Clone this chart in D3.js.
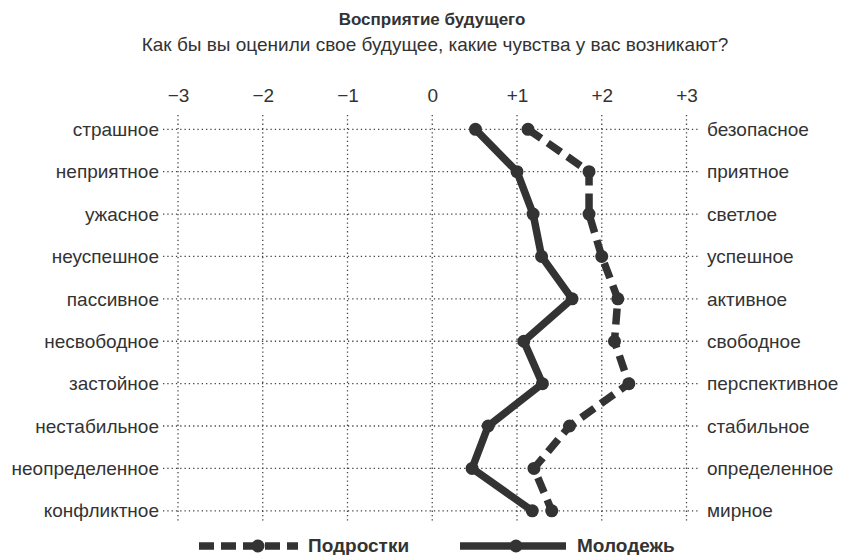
<!DOCTYPE html>
<html><head><meta charset="utf-8">
<script src="https://cdn.jsdelivr.net/npm/d3@7"></script>
<style>
body{margin:0;background:#fff;}
text{font-family:"Liberation Sans",Arial,sans-serif;fill:#333;}
</style></head>
<body>
<svg id="c" width="843" height="555"></svg>
<script>
const leftLabels = ["страшное","неприятное","ужасное","неуспешное","пассивное","несвободное","застойное","нестабильное","неопределенное","конфликтное"];
const rightLabels = ["безопасное","приятное","светлое","успешное","активное","свободное","перспективное","стабильное","определенное","мирное"];
const teens = [1.13,1.85,1.85,2.00,2.19,2.15,2.32,1.62,1.20,1.41];
const youth = [0.51,1.00,1.19,1.29,1.65,1.08,1.30,0.66,0.47,1.18];
const tickValues = [-3,-2,-1,0,1,2,3];
const tickLabels = ["−3","−2","−1","0","+1","+2","+3"];
const seriesNames = ["Подростки","Молодежь"];

const svg = d3.select("#c");
const col = "#333";
const x = d3.scaleLinear().domain([-3,3]).range([178,686.5]);
const y = d3.scalePoint().domain(leftLabels).range([129.3,510.8]);

svg.append("text").attr("x",432).attr("y",25).attr("text-anchor","middle")
  .style("font-size","17px").style("font-weight","bold").text("Восприятие будущего");
svg.append("text").attr("x",435).attr("y",51).attr("text-anchor","middle")
  .style("font-size","19px").text("Как бы вы оценили свое будущее, какие чувства у вас возникают?");

// top axis
const ax = svg.append("g").attr("transform","translate(0,102)")
  .call(d3.axisTop(x).tickValues(tickValues).tickSize(0).tickPadding(0)
    .tickFormat((d,i)=>tickLabels[i]));
ax.select(".domain").remove();
ax.selectAll("text").style("font-size","19px").attr("fill",col)
  .style("font-family","'Liberation Sans',Arial,sans-serif");

// grid
svg.append("g").selectAll("line").data(tickValues).join("line")
  .attr("x1",d=>x(d)).attr("x2",d=>x(d)).attr("y1",115).attr("y2",523)
  .attr("stroke","#444").attr("stroke-width",1.3).attr("stroke-dasharray","1.3,3");
svg.append("g").selectAll("line").data(leftLabels).join("line")
  .attr("x1",163).attr("x2",698).attr("y1",d=>y(d)).attr("y2",d=>y(d))
  .attr("stroke","#444").attr("stroke-width",1.3).attr("stroke-dasharray","1.3,3");

// labels
svg.append("g").selectAll("text").data(leftLabels).join("text")
  .attr("x",159).attr("y",d=>y(d)).attr("dy","0.35em").attr("text-anchor","end")
  .style("font-size","19px").text(d=>d);
svg.append("g").selectAll("text").data(rightLabels).join("text")
  .attr("x",707).attr("y",(d,i)=>y(leftLabels[i])).attr("dy","0.35em")
  .style("font-size","19px").text(d=>d);

function drawSeries(vals, dash){
  const pts = vals.map((v,i)=>[x(v), y(leftLabels[i])]);
  svg.append("path").attr("d", d3.line()(pts)).attr("fill","none")
    .attr("stroke",col).attr("stroke-width",7.5)
    .attr("stroke-dasharray", dash ? "16,8" : null);
  svg.append("g").selectAll("circle").data(pts).join("circle")
    .attr("cx",d=>d[0]).attr("cy",d=>d[1]).attr("r",6.5).attr("fill",col);
}
drawSeries(teens,true);
drawSeries(youth,false);

// legend
const lg = svg.append("g");
const ly = 546;
lg.append("line").attr("x1",199).attr("x2",298).attr("y1",ly).attr("y2",ly)
  .attr("stroke",col).attr("stroke-width",7.5).attr("stroke-dasharray","15,7");
lg.append("circle").attr("cx",258).attr("cy",ly).attr("r",6.5).attr("fill",col);
lg.append("text").attr("x",308).attr("y",ly).attr("dy","0.3em")
  .style("font-size","19px").style("font-weight","bold").text(seriesNames[0]);
lg.append("line").attr("x1",460).attr("x2",566).attr("y1",ly).attr("y2",ly)
  .attr("stroke",col).attr("stroke-width",7.5);
lg.append("circle").attr("cx",516).attr("cy",ly).attr("r",6.5).attr("fill",col);
lg.append("text").attr("x",577).attr("y",ly).attr("dy","0.3em")
  .style("font-size","19px").style("font-weight","bold").text(seriesNames[1]);
</script>
</body></html>
